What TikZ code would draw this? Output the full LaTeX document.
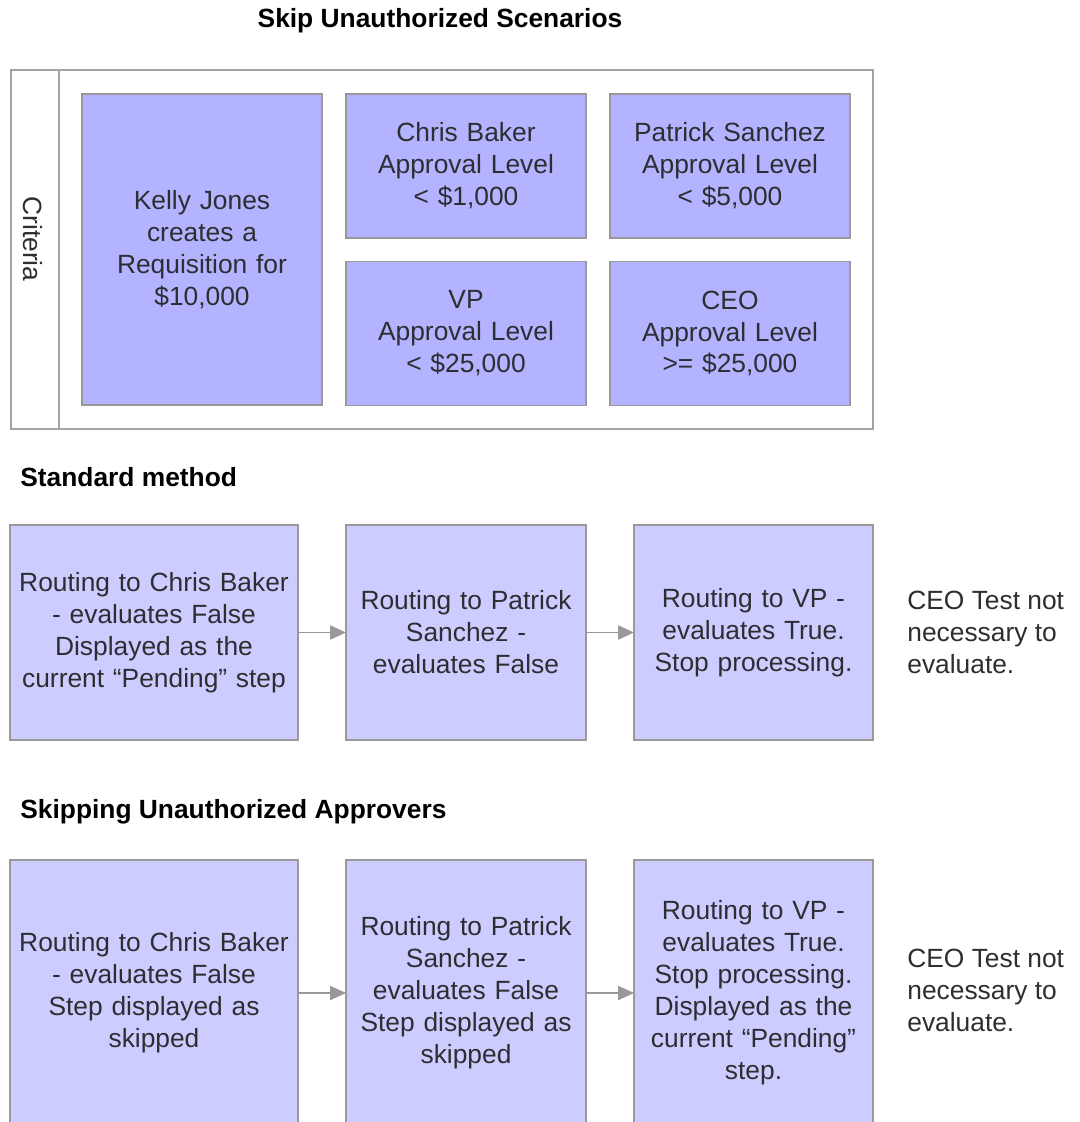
\documentclass[tikz,border=0pt]{standalone}
\usepackage{fontspec}
\setmainfont{Liberation Sans}
\usetikzlibrary{arrows.meta}
\definecolor{critfill}{RGB}{179,179,255}
\definecolor{stepfill}{RGB}{204,204,255}
\definecolor{edgegray}{RGB}{153,153,153}
\definecolor{inkgray}{RGB}{45,45,50}
\tikzstyle{box}=[draw=edgegray, line width=0.8pt, inner sep=2pt, outer sep=0pt, align=center, text=inkgray, font=\fontsize{15}{18.2}\selectfont]
\tikzstyle{critbox}=[box, fill=critfill, minimum width=4.8cm, minimum height=2.88cm, text width=4.6cm]
\tikzstyle{stepbox}=[box, fill=stepfill, minimum height=4.3cm, text width=4.6cm]
\tikzstyle{heading}=[font=\fontsize{15}{18.2}\selectfont\bfseries, inner sep=0pt]
\tikzstyle{note}=[font=\fontsize{15}{18.2}\selectfont, text=inkgray, align=left, inner sep=0pt, anchor=west]
\tikzstyle{flow}=[draw=edgegray, line width=0.8pt, -{Triangle[length=9pt,width=8pt]}]

\begin{document}
\begin{tikzpicture}[x=0.02cm, y=-0.02cm]
        \clip (0, 0) rectangle (1079, 1122);
        \fill[white] (0, 0) rectangle (1079, 1122);
        % criteria panel
        \node[heading] (title) at (440, 21) {Skip Unauthorized Scenarios};
        \draw[draw=edgegray!90, line width=0.9pt] (11, 70) rectangle (873, 429);
        \draw[draw=edgegray!90, line width=0.9pt] (59, 70) -- (59, 429);
        \node[font=\fontsize{15}{18.2}\selectfont, text=inkgray, rotate=-90] (crit) at (33, 239) {Criteria};
        \node[critbox, minimum height=6.22cm] (kelly) at (202, 249.5) {Kelly Jones\\creates a\\Requisition for\\\$10,000};
        \node[critbox] (baker) at (466, 166) {Chris Baker\\Approval Level\\< \$1,000};
        \node[critbox] (sanchez) at (730, 166) {Patrick Sanchez\\Approval Level\\< \$5,000};
        \node[critbox] (vp) at (466, 333.5) {VP\\Approval Level\\< \$25,000};
        \node[critbox] (ceo) at (730, 333.5) {CEO\\Approval Level\\>= \$25,000};
        % standard method
        \node[heading, anchor=west] (stdhead) at (20, 477) {Standard method};
        \node[stepbox, minimum width=5.76cm, text width=5.6cm] (std1) at (154, 632.5) {Routing to Chris Baker\\- evaluates False\\Displayed as the\\current “Pending” step};
        \node[stepbox, minimum width=4.8cm] (std2) at (466, 632.5) {Routing to Patrick\\Sanchez -\\evaluates False};
        \node[stepbox, minimum width=4.78cm] (std3) at (753.5, 632.5) {Routing to VP -\\evaluates True.\\Stop processing.};
        \node[note] (stdceo) at (907, 632) {CEO Test not\\necessary to\\evaluate.};
        \draw[flow] (std1) -- (std2);
        \draw[flow] (std2) -- (std3);
        % skipping unauthorized approvers
        \node[heading, anchor=west] (skiphead) at (20, 812) {Skipping Unauthorized Approvers};
        \node[stepbox, minimum width=5.76cm, minimum height=5.32cm, text width=5.6cm] (skip1) at (154, 993) {Routing to Chris Baker\\- evaluates False\\Step displayed as\\skipped};
        \node[stepbox, minimum width=4.8cm, minimum height=5.32cm] (skip2) at (466, 993) {Routing to Patrick\\Sanchez -\\evaluates False\\Step displayed as\\skipped};
        \node[stepbox, minimum width=4.78cm, minimum height=5.32cm] (skip3) at (753.5, 993) {Routing to VP -\\evaluates True.\\Stop processing.\\Displayed as the\\current “Pending”\\step.};
        \node[note] (skipceo) at (907, 990) {CEO Test not\\necessary to\\evaluate.};
        \draw[flow] (skip1) -- (skip2);
        \draw[flow] (skip2) -- (skip3);
    \end{tikzpicture}
\end{document}
